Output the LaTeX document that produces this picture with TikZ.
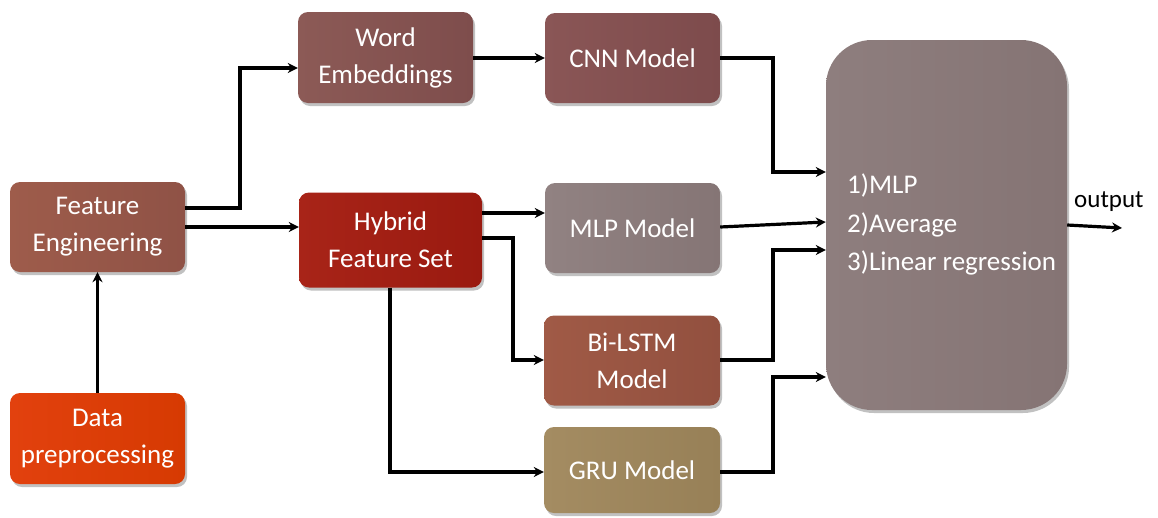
\documentclass[tikz,border=0pt]{standalone}
\usepackage{fontspec}
\setmainfont{Carlito}
\usetikzlibrary{arrows.meta,shadows}

\definecolor{feL}{HTML}{9E5C4B}\definecolor{feR}{HTML}{8F5246}
\definecolor{dpL}{HTML}{E2410E}\definecolor{dpR}{HTML}{D63A02}
\definecolor{hfL}{HTML}{A82418}\definecolor{hfR}{HTML}{9A1A10}
\definecolor{weL}{HTML}{8C5A56}\definecolor{weR}{HTML}{7E4D4C}
\definecolor{cnL}{HTML}{8A5656}\definecolor{cnR}{HTML}{7D4B4C}
\definecolor{mlL}{HTML}{918282}\definecolor{mlR}{HTML}{857575}
\definecolor{blL}{HTML}{A05A46}\definecolor{blR}{HTML}{92503F}
\definecolor{grL}{HTML}{A48C62}\definecolor{grR}{HTML}{978057}
\definecolor{bgL}{HTML}{8E7E7E}\definecolor{bgR}{HTML}{857474}

\tikzset{
  box/.style={rounded corners=10pt, minimum width=175pt, minimum height=90pt,
    align=center, text=white, font=\fontsize{27}{37}\selectfont,
    drop shadow={shadow xshift=2pt, shadow yshift=-3pt, opacity=0.35, fill=black!70}},
  arr/.style={line width=3.2pt, -{Stealth[length=10pt,width=10pt]}}
}

\begin{document}
\begin{tikzpicture}[x=1pt,y=-1pt]
\useasboundingbox (0,0) rectangle (1158,517);

% processing blocks
\node[box, left color=feL, right color=feR] (fe) at (97.5,227) {Feature\\Engineering};
\node[box, left color=dpL, right color=dpR, minimum height=91pt] (dp) at (97.5,438.5) {Data\\preprocessing};
\node[box, left color=hfL, right color=hfR, minimum width=183pt, minimum height=95pt] (hf) at (390.5,240) {Hybrid\\Feature Set};
\node[box, left color=weL, right color=weR, minimum height=91pt] (we) at (385.5,57.5) {Word\\Embeddings};

% models
\node[box, left color=cnL, right color=cnR] (cnn) at (632.5,58) {CNN Model};
\node[box, left color=mlL, right color=mlR] (mlp) at (632.5,228) {MLP Model};
\node[box, left color=blL, right color=blR, minimum width=176pt] (lstm) at (632,360.5) {Bi-LSTM\\Model};
\node[box, left color=grL, right color=grR, minimum width=176pt, minimum height=86pt] (gru) at (632,470) {GRU Model};

% ensemble block
\node[box, left color=bgL, right color=bgR, rounded corners=46pt, minimum width=241pt, minimum height=370pt] (ens) at (946.5,225) {};
\node[anchor=north west, align=left, text=white, font=\fontsize{27}{38.5}\selectfont, inner sep=0pt] (meth) at (847,174)
  {1)MLP\\2)Average\\3)Linear regression};

% output
\coordinate (out) at (1122,228);
\node[anchor=south west, font=\fontsize{25}{28}\selectfont, inner sep=0pt] (outl) at (1074,212) {output};

% connectors
\draw[arr] (dp.north) -- (fe.south);
\draw[arr] (fe.east |- 0,208) -- (240,208) -- (240,68) -- (we.west |- 0,68);
\draw[arr] (fe.east |- 0,227) -- (hf.west |- 0,227);
\draw[arr] (we.east |- 0,58) -- (cnn.west |- 0,58);
\draw[arr] (hf.east |- 0,213) -- (mlp.west |- 0,213);
\draw[arr] (hf.east |- 0,238) -- (513,238) -- (513,360) -- (lstm.west |- 0,360);
\draw[arr] (hf.south -| 390,0) -- (390,472) -- (gru.west |- 0,472);

\draw[arr] (cnn.east |- 0,58) -- (773,58) -- (773,172) -- (ens.west |- 0,172);
\draw[arr] (mlp.east |- 0,227) -- (ens.west |- 0,222);
\draw[arr] (lstm.east |- 0,360) -- (773,360) -- (773,250) -- (ens.west |- 0,250);
\draw[arr] (gru.east |- 0,472) -- (773,472) -- (773,377) -- (ens.west |- 0,377);
\draw[arr] (ens.east |- 0,225) -- (out);
\end{tikzpicture}
\end{document}
